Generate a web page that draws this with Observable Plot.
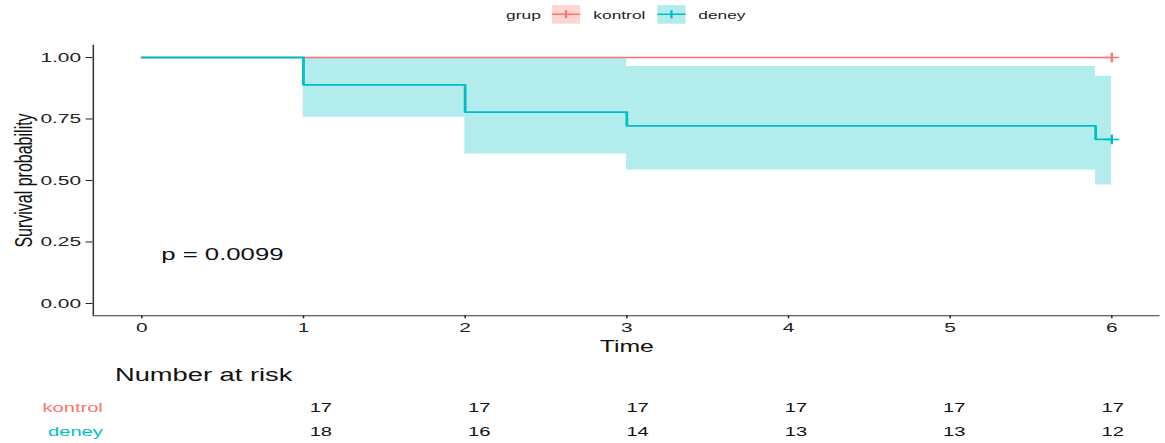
<!DOCTYPE html>
<html>
<head>
<meta charset="utf-8">
<script src="https://cdn.jsdelivr.net/npm/d3@7"></script>
<script src="https://cdn.jsdelivr.net/npm/@observablehq/plot@0.6"></script>
<style>
  html, body { margin: 0; padding: 0; background: #fff; overflow: hidden; }
  body { width: 1165px; height: 443px; }
  #wrap { position: absolute; left: 0; top: 0; height: 443px; transform-origin: 0 0;
          font-family: "Liberation Sans", Arial, sans-serif; color: #222; }
  .abs { position: absolute; white-space: nowrap; }
</style>
</head>
<body>
<div id="wrap"></div>
<script>
// ---------------- data ----------------
const groups = ["kontrol", "deney"];
const groupColors = ["#F8766D", "#00BFC4"];
const legendTitle = "grup";

const kontrolTime = [0, 6];
const kontrolSurv = [1, 1];

const deneyTime = [0, 1, 2, 3, 5.9, 6];
const deneySurv = [1, 0.889, 0.778, 0.722, 0.667, 0.667];

const bandTime = [1, 2, 3, 5.9, 6];
const bandLower = [0.757, 0.608, 0.543, 0.482, 0.482];
const bandUpper = [1, 1, 0.963, 0.924, 0.924];

const censorGroup = ["kontrol", "deney"];
const censorTime = [6, 6];
const censorSurv = [1, 0.667];

const xTicks = [0, 1, 2, 3, 4, 5, 6];
const yTicks = [0, 0.25, 0.5, 0.75, 1];
const xLabel = "Time";
const yLabel = "Survival probability";
const pText = "p = 0.0099";
const pPos = [0.12, 0.2];

const riskTitle = "Number at risk";
const riskTimes = [1, 2, 3, 4, 5, 6];
const riskKontrol = [17, 17, 17, 17, 17, 17];
const riskDeney = [18, 16, 14, 13, 13, 12];

// ---------------- layout ----------------
const SX = 1.55;                 // horizontal stretch of the reference
const W = 1165 / SX;
const wrap = document.getElementById("wrap");
wrap.style.width = W + "px";
wrap.style.transform = `scaleX(${SX})`;

const color = d3.scaleOrdinal(groups, groupColors);
const font = '"Liberation Sans", Arial, sans-serif';

const xDomain = [-0.3, 6.3];
const yDomain = [-0.05, 1.05];

const kontrol = kontrolTime.map((t, i) => ({t, s: kontrolSurv[i]}));
const deney = deneyTime.map((t, i) => ({t, s: deneySurv[i]}));
const band = bandTime.map((t, i) => ({t, lo: bandLower[i], hi: bandUpper[i]}));
const censor = censorTime.map((t, i) => ({t, s: censorSurv[i], g: censorGroup[i]}));

const main = Plot.plot({
  width: W, height: 360,
  marginLeft: 59.7, marginRight: 3.5, marginTop: 44.7, marginBottom: 44.7,
  style: {fontFamily: font, fontSize: "13.5px", color: "#222", background: "transparent", overflow: "visible"},
  x: {domain: xDomain, ticks: xTicks, tickFormat: d3.format("d"), tickSize: 3, tickPadding: 3.7, label: null},
  y: {domain: yDomain, ticks: yTicks, tickFormat: d3.format(".2f"), tickSize: 4.5, tickPadding: 3.4, label: null},
  marks: [
    Plot.areaY(band, {x: "t", y1: "lo", y2: "hi", curve: "step-after", fill: color("deney"), fillOpacity: 0.3}),
    Plot.line(kontrol, {x: "t", y: "s", curve: "step-after", stroke: color("kontrol"), strokeWidth: 1.5}),
    Plot.line(deney, {x: "t", y: "s", curve: "step-after", stroke: color("deney"), strokeWidth: 1.8}),
    Plot.dot(censor, {x: "t", y: "s", symbol: "plus", r: 3.2, stroke: d => color(d.g), strokeWidth: 1.5}),
    Plot.ruleX([xDomain[0]], {stroke: "#333", strokeWidth: 1}),
    Plot.ruleY([yDomain[0]], {stroke: "#333", strokeWidth: 1}),
    Plot.text([pText], {x: () => pPos[0], y: () => pPos[1], text: d => d, textAnchor: "start", lineAnchor: "middle", fontSize: 16.6, fill: "#111"}),
    Plot.text([xLabel], {frameAnchor: "bottom", text: d => d, lineAnchor: "middle", dy: 31, fontSize: 16, fill: "#111"}),
    Plot.text([yLabel], {frameAnchor: "left", text: d => d, rotate: -90, textAnchor: "middle", lineAnchor: "middle", dx: -44.9, fontSize: 16, fill: "#111"})
  ]
});
main.style.position = "absolute";
main.style.left = "0px";
main.style.top = "0px";
wrap.appendChild(main);

// ---------------- legend ----------------
function keySvg(c) {
  const w = 18.3, h = 18.7;
  return `<svg width="${w}" height="${h}" style="display:block">
    <rect x="0" y="0" width="${w}" height="${h}" fill="${c}" fill-opacity="0.3"/>
    <line x1="0" x2="${w}" y1="${h/2}" y2="${h/2}" stroke="${c}" stroke-width="1.5"/>
    <line x1="${w/2}" x2="${w/2}" y1="${h/2-4}" y2="${h/2+4}" stroke="${c}" stroke-width="1.5"/>
  </svg>`;
}
const legendItems = [
  {html: legendTitle, left: 326.5, text: true},
  {html: keySvg(color(groups[0])), left: 356.3},
  {html: groups[0], left: 382.8, text: true},
  {html: keySvg(color(groups[1])), left: 424.3},
  {html: groups[1], left: 450.5, text: true}
];
for (const it of legendItems) {
  const d = document.createElement("div");
  d.className = "abs";
  d.style.left = it.left + "px";
  if (it.text) {
    d.style.top = "7.5px";
    d.style.fontSize = "11.2px";
    d.style.lineHeight = "14px";
    d.style.color = "#222";
  } else {
    d.style.top = "5.3px";
  }
  d.innerHTML = it.html;
  wrap.appendChild(d);
}

// ---------------- risk table ----------------
const title = document.createElement("div");
title.className = "abs";
title.textContent = riskTitle;
title.style.left = "74.2px";
title.style.top = "365px";
title.style.fontSize = "17.6px";
title.style.lineHeight = "20px";
title.style.color = "#111";
wrap.appendChild(title);

const riskRows = [];
riskTimes.forEach((t, i) => {
  riskRows.push({t, g: groups[0], n: riskKontrol[i]});
  riskRows.push({t, g: groups[1], n: riskDeney[i]});
});

const table = Plot.plot({
  width: W, height: 83,
  marginLeft: 104.3, marginRight: 34.2, marginTop: 0, marginBottom: 0,
  style: {fontFamily: font, fontSize: "13px", background: "transparent", overflow: "visible"},
  x: {domain: [0, 6], axis: null},
  y: {type: "point", domain: groups, range: [46.5, 71], padding: 0, axis: null},
  marks: [
    Plot.text(riskRows, {x: "t", y: "g", text: d => String(d.n), lineAnchor: "middle", fontSize: 13, fill: "#111"}),
    Plot.text(groups, {y: d => d, frameAnchor: "left", text: d => d, textAnchor: "end", lineAnchor: "middle", dx: -38.5, fontSize: 13, fill: d => color(d)})
  ]
});
table.style.position = "absolute";
table.style.left = "0px";
table.style.top = "360px";
wrap.appendChild(table);
</script>
</body>
</html>
